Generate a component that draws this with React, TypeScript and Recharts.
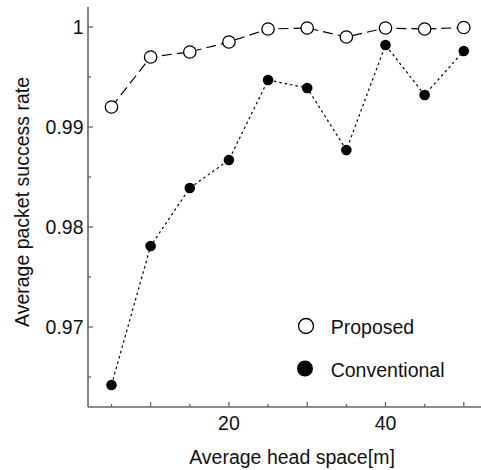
import { LineChart, Line, XAxis, YAxis, Legend } from "recharts";

const headSpace = [5, 10, 15, 20, 25, 30, 35, 40, 45, 50];
const proposed = [0.992, 0.997, 0.9975, 0.9985, 0.9998, 0.9999, 0.999, 0.9999, 0.9998, 0.99995];
const conventional = [0.9642, 0.9781, 0.9839, 0.9867, 0.9947, 0.9939, 0.9877, 0.9982, 0.9932, 0.9976];

const xTicks = [5, 10, 15, 20, 25, 30, 35, 40, 45, 50];
const xTickLabels = [20, 40];
const yTicks = [0.965, 0.97, 0.975, 0.98, 0.985, 0.99, 0.995, 1];
const yTickLabels = [0.97, 0.98, 0.99, 1];

const data = headSpace.map((x, i) => ({ x, proposed: proposed[i], conventional: conventional[i] }));

const FONT = '"Liberation Sans", Arial, sans-serif';
const FS = 19.5;
const AXIS = "#666";
const INK = "#111";

const isLabel = (list: number[], v: number) => list.some((l) => Math.abs(l - v) < 1e-9);

function BottomTick({ x, y, payload }: any) {
  const v = payload.value;
  const major = v % 10 === 0;
  return (
    <g>
      <line x1={x} x2={x} y1={y} y2={y - (major ? 5 : 3)} stroke={AXIS} strokeWidth={1.3} />
      {isLabel(xTickLabels, v) && (
        <text x={x} y={y + 22.5} textAnchor="middle" fontFamily={FONT} fontSize={FS} fill={INK}>
          {v}
        </text>
      )}
    </g>
  );
}

function TopTick({ x, y, payload }: any) {
  const major = payload.value % 10 === 0;
  return <line x1={x} x2={x} y1={y} y2={y + (major ? 5 : 3)} stroke={AXIS} strokeWidth={1.3} />;
}

function LeftTick({ x, y, payload }: any) {
  const v = payload.value;
  const major = isLabel(yTickLabels, v);
  return (
    <g>
      <line x1={x} x2={x + (major ? 5 : 3)} y1={y} y2={y} stroke={AXIS} strokeWidth={1.3} />
      {major && (
        <text x={x - 4.5} y={y + 7.3} textAnchor="end" fontFamily={FONT} fontSize={FS} fill={INK}>
          {String(v)}
        </text>
      )}
    </g>
  );
}

function XTitle() {
  return (
    <text x={292} y={464} textAnchor="middle" fontFamily={FONT} fontSize={FS} fill={INK}>
      Average head space[m]
    </text>
  );
}

function YTitle() {
  return (
    <text
      x={0}
      y={0}
      transform="translate(29, 202) rotate(-90)"
      textAnchor="middle"
      fontFamily={FONT}
      fontSize={FS}
      fill={INK}
    >
      Average packet success rate
    </text>
  );
}

function LegendBox() {
  return (
    <div style={{ position: "relative", width: 0, height: 0 }}>
      <svg
        width={180}
        height={90}
        style={{ position: "absolute", left: 290, top: 300, overflow: "visible" }}
      >
        <circle cx={16} cy={26} r={7.5} fill="#fff" stroke="#000" strokeWidth={1.3} />
        <text x={40.7} y={34.3} fontFamily={FONT} fontSize={FS} fill={INK}>
          Proposed
        </text>
        <circle cx={15} cy={68.5} r={8} fill="#000" />
        <text x={40.7} y={76.5} fontFamily={FONT} fontSize={FS} fill={INK}>
          Conventional
        </text>
      </svg>
    </div>
  );
}

export default function App() {
  return (
    <div style={{ width: 481, height: 470, background: "#fff" }}>
      <style>{"body{margin:0;overflow:hidden;background:#fff}"}</style>
      <LineChart width={481} height={470} data={data} margin={{ top: 7, right: 0, left: 0, bottom: 0 }}>
        <XAxis
          dataKey="x"
          type="number"
          domain={[2, 52.2]}
          allowDataOverflow
          ticks={xTicks}
          height={63}
          tickSize={0}
          tickMargin={0}
          tickLine={false}
          tick={<BottomTick />}
          axisLine={{ stroke: AXIS, strokeWidth: 1.6 }}
          label={<XTitle />}
        />
        <XAxis
          xAxisId="top"
          orientation="top"
          dataKey="x"
          type="number"
          domain={[2, 52.2]}
          allowDataOverflow
          ticks={xTicks}
          height={0}
          tickSize={0}
          tickMargin={0}
          tickLine={false}
          tick={<TopTick />}
          axisLine={{ stroke: AXIS, strokeWidth: 1.6 }}
        />
        <YAxis
          type="number"
          domain={[0.962, 1.002]}
          allowDataOverflow
          ticks={yTicks}
          width={88}
          tickSize={0}
          tickMargin={0}
          tickLine={false}
          tick={<LeftTick />}
          axisLine={{ stroke: AXIS, strokeWidth: 1.6 }}
          label={<YTitle />}
        />
        <Legend content={<LegendBox />} wrapperStyle={{ left: 0, top: 0, width: 0, height: 0 }} />
        <Line
          dataKey="conventional"
          stroke="#000"
          strokeWidth={1.2}
          strokeDasharray="2.5 3"
          dot={{ r: 5.3, fill: "#000", stroke: "#000", strokeWidth: 0, strokeDasharray: "none" }}
          activeDot={false}
          isAnimationActive={false}
          legendType="none"
        />
        <Line
          dataKey="proposed"
          stroke="#000"
          strokeWidth={1.2}
          strokeDasharray="10 5"
          dot={{ r: 6.2, fill: "#fff", stroke: "#000", strokeWidth: 1.3, strokeDasharray: "none" }}
          activeDot={false}
          isAnimationActive={false}
          legendType="none"
        />
      </LineChart>
    </div>
  );
}
